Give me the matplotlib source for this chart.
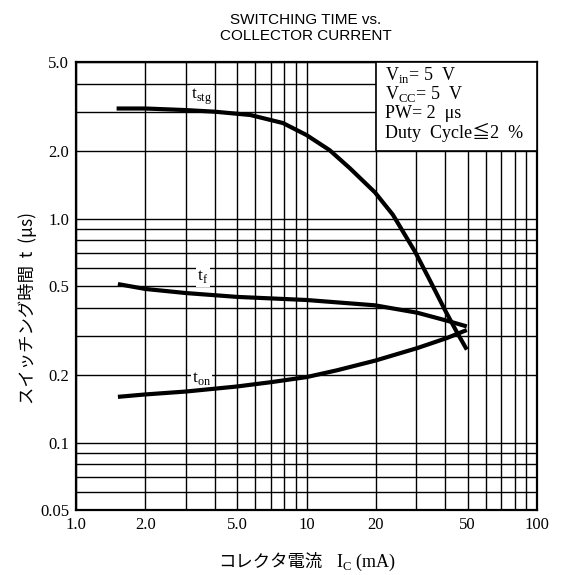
import matplotlib
matplotlib.use("Agg")
import matplotlib.pyplot as plt
from matplotlib.patches import Rectangle
from matplotlib.ticker import FixedLocator, NullFormatter, LogLocator

#### Data (Ic in mA, time in us)

ic_stg = [1.5, 2.0, 3.0, 4.0, 5.7, 7.9, 10, 12.6, 15.4, 19.8, 23.7, 29.6, 34.3, 39.9, 45, 49.6]
t_stg = [3.1, 3.1, 3.05, 3.0, 2.9, 2.67, 2.36, 2.02, 1.68, 1.31, 1.04, 0.71, 0.53, 0.39, 0.31, 0.26]

ic_f = [1.52, 2.0, 3.0, 5.0, 10, 19.8, 30.2, 40.7, 49.6]
t_f = [0.51, 0.485, 0.465, 0.447, 0.433, 0.41, 0.38, 0.35, 0.33]

ic_on = [1.52, 2.0, 3.0, 5.0, 7.0, 10, 13.5, 19.8, 30.2, 40.7, 49.6]
t_on = [0.16, 0.164, 0.169, 0.178, 0.186, 0.196, 0.21, 0.232, 0.264, 0.293, 0.318]

xticks = [1, 2, 5, 10, 20, 50, 100]
xlabels = ["1.0", "2.0", "5.0", "10", "20", "50", "100"]
yticks = [0.05, 0.1, 0.2, 0.5, 1, 2, 5]
ylabels = ["0.05", "0.1", "0.2", "0.5", "1.0", "2.0", "5.0"]

conditions = ["V$_\\mathregular{in}$= 5  V", "V$_\\mathregular{CC}$= 5  V",
              "PW= 2  \u03bcs", "Duty  Cycle\u22662  %"]

serif = ["Liberation Serif", "DejaVu Serif", "Noto Sans CJK JP"]
jp = ["Noto Sans CJK JP", "DejaVu Sans"]

#### Figure

fig = plt.figure(figsize = (5.64, 5.75), dpi = 100)
ax = fig.add_axes([76 / 564, 65 / 575, 461 / 564, 448 / 575])

ax.set_xscale("log")
ax.set_yscale("log")
ax.set_xlim(1, 100)
ax.set_ylim(0.05, 5)

ax.xaxis.set_major_locator(FixedLocator(xticks))
ax.yaxis.set_major_locator(FixedLocator(yticks))
ax.xaxis.set_minor_locator(LogLocator(base = 10, subs = range(2, 10)))
ax.yaxis.set_minor_locator(LogLocator(base = 10, subs = range(2, 10)))
ax.xaxis.set_minor_formatter(NullFormatter())
ax.yaxis.set_minor_formatter(NullFormatter())
ax.set_xticklabels(xlabels, family = serif, fontsize = 12)
ax.set_yticklabels(ylabels, family = serif, fontsize = 12)
ax.tick_params(which = "both", length = 0, pad = 5)

ax.set_axisbelow(True)
ax.grid(which = "both", color = "black", linewidth = 1.0)
for s in ax.spines.values():
    s.set_linewidth(1.6)

# curves
ax.plot(ic_stg, t_stg, color = "black", linewidth = 3, zorder = 4, solid_capstyle = "butt")
ax.plot(ic_f, t_f, color = "black", linewidth = 3, zorder = 4, solid_capstyle = "butt")
ax.plot(ic_on, t_on, color = "black", linewidth = 3, zorder = 4, solid_capstyle = "butt")

lab_box = dict(facecolor = "white", edgecolor = "none", pad = 1)
ax.text(3.5, 3.5, "t$_\\mathregular{stg}$", family = serif, fontsize = 12.5,
        ha = "center", va = "center", bbox = lab_box, zorder = 3)
ax.text(3.55, 0.55, "t$_\\mathregular{f}$", family = serif, fontsize = 12.5,
        ha = "center", va = "center", bbox = lab_box, zorder = 3)
ax.text(3.5, 0.194, "t$_\\mathregular{on}$", family = serif, fontsize = 12.5,
        ha = "center", va = "center", bbox = lab_box, zorder = 3)

# conditions box
ax.add_patch(Rectangle((20, 2), 80, 3, facecolor = "white", edgecolor = "black",
                       linewidth = 1.2, zorder = 3))
for i, line in enumerate(conditions):
    ax.text(0.67, 0.971 - i * 0.043, line, transform = ax.transAxes, family = serif,
            fontsize = 13, ha = "left", va = "center", zorder = 5)

# titles and axis labels
fig.text(306 / 564, 1 - 28 / 575, "SWITCHING TIME vs.\nCOLLECTOR CURRENT",
         family = ["Liberation Sans Narrow", "Liberation Sans"], fontsize = 11,
         ha = "center", va = "center", linespacing = 1.15)

ax.set_ylabel("スイッチング時間  t  (\u03bcs)", family = jp, fontsize = 12.5)
ax.yaxis.set_label_coords(-0.085, 0.45)

fig.text(322 / 564, 1 - 562 / 575, "コレクタ電流", family = jp, fontsize = 12.5,
         ha = "right", va = "center")
fig.text(336 / 564, 1 - 562 / 575, "I$_\\mathregular{C}$ (mA)", family = serif,
         fontsize = 13, ha = "left", va = "center")

fig.savefig("out.png", dpi = 100)
